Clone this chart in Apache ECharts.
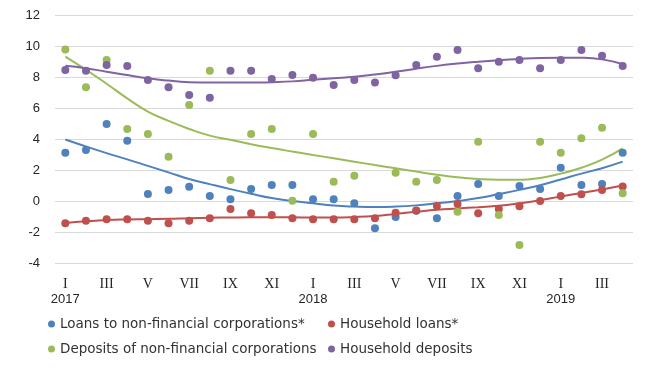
<!DOCTYPE html>
<html>
<head>
<meta charset="utf-8">
<script src="https://cdn.jsdelivr.net/npm/echarts@6/dist/echarts.min.js"></script>
<style>html,body{margin:0;padding:0;background:#fff}#c{width:650px;height:378px}</style>
</head>
<body>
<div id="c"></div>
<script>
// Months Jan 2017 .. Apr 2019
const monthNames = ['I','II','III','IV','V','VI','VII','VIII','IX','X','XI','XII',
  'I','II','III','IV','V','VI','VII','VIII','IX','X','XI','XII','I','II','III','IV'];
const yearLabels = ['2017','','','','','','','','','','','','2018','','','','','','','','','','','','2019','','',''];
const seriesNames = ['Loans to non-financial corporations*','Household loans*','Deposits of non-financial corporations','Household deposits'];

const loansCorp = [3.15,3.32,5.0,3.92,0.48,0.74,0.95,0.35,0.14,0.81,1.06,1.06,0.14,0.14,-0.12,-1.73,-1.0,-0.6,-1.08,0.35,1.13,0.35,1.0,0.81,2.18,1.06,1.13,3.15];
const loansHouse = [-1.41,-1.24,-1.15,-1.15,-1.24,-1.41,-1.24,-1.08,-0.48,-0.76,-0.87,-1.08,-1.15,-1.15,-1.15,-1.08,-0.72,-0.58,-0.29,-0.16,-0.76,-0.48,-0.3,0.04,0.36,0.46,0.74,0.97];
const depCorp = [9.8,7.37,9.13,4.68,4.35,2.89,6.23,8.44,1.39,4.35,4.68,0.05,4.35,1.28,1.66,null,1.86,1.28,1.39,-0.66,3.86,-0.87,-2.81,3.86,3.15,4.08,4.76,0.53];
const depHouse = [8.48,8.44,8.8,8.74,7.84,7.37,6.87,6.7,8.44,8.44,7.9,8.16,7.99,7.52,7.84,7.67,8.14,8.8,9.34,9.77,8.59,9.02,9.13,8.59,9.13,9.77,9.41,8.74];

// trend lines
const loansCorpTrend = [4.0,3.55,3.12,2.72,2.3,1.88,1.45,1.12,0.8,0.5,0.22,0.03,-0.12,-0.26,-0.33,-0.36,-0.33,-0.25,-0.12,0.03,0.22,0.48,0.75,1.05,1.42,1.8,2.15,2.57];
const loansHouseTrend = [-1.38,-1.28,-1.2,-1.16,-1.14,-1.12,-1.08,-1.05,-1.03,-1.02,-1.02,-1.02,-1.03,-1.03,-1.0,-0.93,-0.8,-0.66,-0.53,-0.45,-0.37,-0.28,-0.12,0.08,0.33,0.55,0.78,1.03];
const depCorpTrend = [9.35,8.5,7.6,6.65,5.8,5.2,4.68,4.25,3.98,3.7,3.45,3.22,3.0,2.79,2.57,2.35,2.14,1.93,1.73,1.56,1.45,1.4,1.4,1.52,1.8,2.18,2.7,3.43];
const depHouseTrend = [8.76,8.6,8.37,8.16,7.95,7.8,7.7,7.67,7.67,7.67,7.7,7.75,7.85,7.95,8.05,8.2,8.37,8.57,8.75,8.9,9.02,9.12,9.2,9.26,9.28,9.27,9.17,8.87];

const yTicks = {min:-4, max:12, step:2};
const colors = ['#4F81BD','#C0504D','#9BBB59','#8064A2'];

const categories = monthNames.map((m,i)=>String(i));
const pointSets = [loansCorp, loansHouse, depCorp, depHouse];
const trendSets = [loansCorpTrend, loansHouseTrend, depCorpTrend, depHouseTrend];

const series = [];
trendSets.forEach((d,i)=>{
  series.push({type:'line', name:seriesNames[i]+' trend', data:d, smooth:true, showSymbol:false,
    lineStyle:{color:colors[i], width:2}, z:2, silent:true});
});
pointSets.forEach((d,i)=>{
  series.push({type:'scatter', name:seriesNames[i], data:d, symbol:'circle', symbolSize:8,
    itemStyle:{color:colors[i], opacity:1}, z:3});
});

const legendPos = [[48,317],[328,317],[48,342],[328,342]];
const legends = seriesNames.map((n,i)=>({
  data:[n], left:legendPos[i][0], top:legendPos[i][1], icon:'circle', itemWidth:7, itemHeight:7,
  padding:0, textStyle:{fontFamily:'DejaVu Sans', fontSize:13.5, color:'#333'}
}));

const chart = echarts.init(document.getElementById('c'), null, {renderer:'canvas'});
chart.setOption({
  animation:false,
  color:colors,
  grid:{left:55, right:17, top:15.5, bottom:114.5, containLabel:false},
  legend:legends,
  xAxis:{type:'category', data:categories, boundaryGap:true,
    axisLine:{show:false}, axisTick:{show:false},
    axisLabel:{interval:1, margin:13, formatter:(v,idx)=>{
        const i = Number(v);
        return '{r|'+monthNames[i]+'}' + (yearLabels[i] ? '\n{y|'+yearLabels[i]+'}' : '');
      },
      rich:{r:{fontFamily:'Liberation Serif', fontSize:14, color:'#262626', lineHeight:15, align:'center'},
            y:{fontFamily:'Liberation Sans', fontSize:13, color:'#262626', lineHeight:15, align:'center'}}},
    splitLine:{show:false}},
  yAxis:{type:'value', min:yTicks.min, max:yTicks.max, interval:yTicks.step,
    axisLine:{show:false}, axisTick:{show:false},
    axisLabel:{fontFamily:'Liberation Sans', fontSize:13, color:'#262626', margin:15},
    splitLine:{lineStyle:{color:'#D9D9D9', width:1}}},
  series:series
});
</script>
</body>
</html>
